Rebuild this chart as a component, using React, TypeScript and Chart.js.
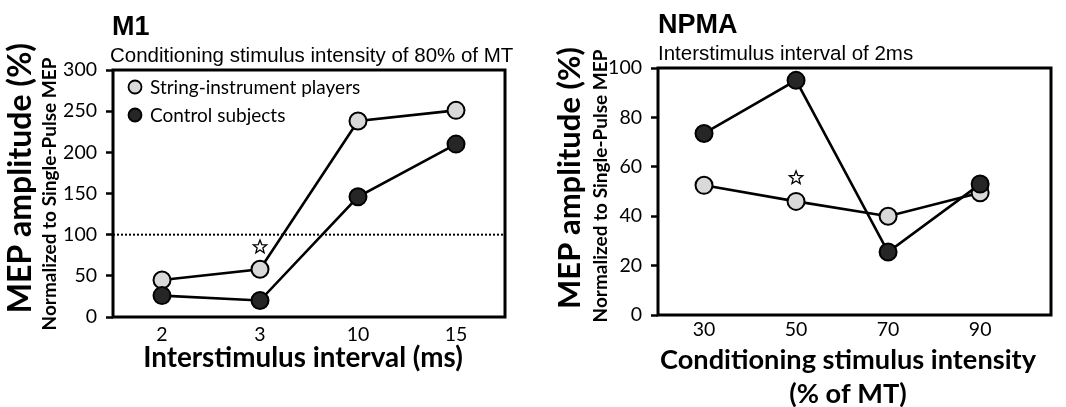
import React, { useEffect, useRef } from 'react';
import { Chart, registerables } from 'chart.js';

Chart.register(...registerables);

// ---------- Data ----------
const m1Categories = ['2', '3', '10', '15'];
const m1StringPlayers = [45, 58, 238, 251];
const m1Controls = [26, 20, 146, 210];
const m1YTicks = [0, 50, 100, 150, 200, 250, 300];
const m1ReferenceLine = 100;
const m1StarCategory = '3';
const m1StarValue = 85;

const npmaIntensities = [30, 50, 70, 90];
const npmaStringPlayers = [52.5, 46, 40, 49.5];
const npmaControls = [73.5, 95, 25.5, 53];
const npmaYTicks = [0, 20, 40, 60, 80, 100];
const npmaStarIntensity = 50;
const npmaStarValue = 55.5;

const seriesLabels = ['String-instrument players', 'Control subjects'];

// ---------- Styles ----------
const LIGHT = '#d9d9d9';
const DARK = '#262626';
const FONT = 'Lato';
const ARIAL = '"Liberation Sans", Arial, sans-serif';

Chart.defaults.font.family = FONT;
Chart.defaults.color = '#000';

type Decor = {
  title: { text: string; x: number; y: number };
  subtitle: { text: string; x: number; y: number };
  yTitle: { text: string; x: number; y: number; size: number };
  ySub: { text: string; x: number; y: number; size: number };
  xTitle: { lines: string[]; x: number; ys: number[]; size: number };
  refLine?: number;
  star: { x: number | string; y: number };
  legend?: boolean;
};

function drawStar(ctx: CanvasRenderingContext2D, cx: number, cy: number, R: number, r: number) {
  ctx.beginPath();
  for (let i = 0; i < 10; i++) {
    const rad = i % 2 === 0 ? R : r;
    const a = -Math.PI / 2 + (i * Math.PI) / 5;
    const px = cx + rad * Math.cos(a);
    const py = cy + rad * Math.sin(a);
    if (i === 0) ctx.moveTo(px, py);
    else ctx.lineTo(px, py);
  }
  ctx.closePath();
  ctx.fillStyle = '#fff';
  ctx.fill();
  ctx.lineWidth = 1.3;
  ctx.strokeStyle = '#000';
  ctx.stroke();
}

function makeDecorPlugin(d: Decor) {
  return {
    id: 'decor',
    beforeDatasetsDraw(chart: any) {
      const { ctx, chartArea, scales } = chart;
      if (d.refLine !== undefined) {
        const y = scales.y.getPixelForValue(d.refLine);
        ctx.save();
        ctx.setLineDash([2, 2]);
        ctx.lineWidth = 2;
        ctx.strokeStyle = '#000';
        ctx.beginPath();
        ctx.moveTo(chartArea.left, y);
        ctx.lineTo(chartArea.right, y);
        ctx.stroke();
        ctx.restore();
      }
    },
    afterDraw(chart: any) {
      const { ctx, chartArea, scales } = chart;
      ctx.save();
      // frame
      ctx.lineWidth = 3;
      ctx.strokeStyle = '#000';
      ctx.strokeRect(chartArea.left, chartArea.top, chartArea.right - chartArea.left, chartArea.bottom - chartArea.top);

      // titles
      ctx.fillStyle = '#000';
      ctx.textAlign = 'left';
      ctx.textBaseline = 'alphabetic';
      ctx.font = `bold 27px ${ARIAL}`;
      ctx.fillText(d.title.text, d.title.x, d.title.y);
      ctx.font = `20.5px ${ARIAL}`;
      ctx.fillText(d.subtitle.text, d.subtitle.x, d.subtitle.y);

      // y titles
      ctx.textAlign = 'center';
      ctx.textBaseline = 'middle';
      ctx.save();
      ctx.translate(d.yTitle.x, d.yTitle.y);
      ctx.rotate(-Math.PI / 2);
      ctx.font = `bold ${d.yTitle.size}px ${FONT}`;
      ctx.fillText(d.yTitle.text, 0, 0);
      ctx.restore();
      ctx.save();
      ctx.translate(d.ySub.x, d.ySub.y);
      ctx.rotate(-Math.PI / 2);
      ctx.font = `bold ${d.ySub.size}px ${FONT}`;
      ctx.fillText(d.ySub.text, 0, 0);
      ctx.restore();

      // x title
      ctx.font = `bold ${d.xTitle.size}px ${FONT}`;
      d.xTitle.lines.forEach((line, i) => ctx.fillText(line, d.xTitle.x, d.xTitle.ys[i]));

      // star
      const sx = scales.x.getPixelForValue(d.star.x as any);
      const sy = scales.y.getPixelForValue(d.star.y);
      drawStar(ctx, sx, sy, 7, 3);

      // legend (custom, inside plot area)
      if (d.legend) {
        const order = [1, 0];
        order.forEach((di, row) => {
          const ds = chart.data.datasets[di];
          const cy = chartArea.top + 17 + row * 28;
          const cx = chartArea.left + 22;
          ctx.beginPath();
          ctx.arc(cx, cy, 6.5, 0, Math.PI * 2);
          ctx.fillStyle = ds.pointBackgroundColor;
          ctx.fill();
          ctx.lineWidth = 1.8;
          ctx.strokeStyle = '#000';
          ctx.stroke();
          ctx.fillStyle = '#000';
          ctx.font = `19px ${FONT}`;
          ctx.textAlign = 'left';
          ctx.textBaseline = 'middle';
          ctx.fillText(ds.label, cx + 15, cy + 1);
        });
      }
      ctx.restore();
    },
  };
}

function seriesStyle(fill: string) {
  return {
    borderColor: '#000',
    borderWidth: 2.6,
    backgroundColor: fill,
    pointBackgroundColor: fill,
    pointBorderColor: '#000',
    pointBorderWidth: 2,
    pointRadius: 8.5,
    pointHoverRadius: 8.5,
    fill: false,
    tension: 0,
  };
}

function yAxis(ticks: number[], width: number) {
  return {
    min: ticks[0],
    max: ticks[ticks.length - 1],
    afterBuildTicks: (s: any) => {
      s.ticks = ticks.map((v) => ({ value: v }));
    },
    ticks: { color: '#000', font: { size: 19.5 }, padding: 9 },
    grid: { display: true, drawOnChartArea: false, drawTicks: true, tickLength: 7, tickWidth: 2.5, tickColor: '#000', color: '#000' },
    border: { display: false },
    afterFit: (s: any) => {
      s.width = width;
    },
  };
}

function ChartCanvas({ config }: { config: any }) {
  const ref = useRef<HTMLCanvasElement | null>(null);
  useEffect(() => {
    if (!ref.current) return;
    const chart = new Chart(ref.current, config);
    return () => chart.destroy();
  }, [config]);
  return <canvas ref={ref} width={533} height={407} style={{ display: 'block', width: 533, height: 407 }} />;
}

const m1Config = {
  type: 'line',
  data: {
    labels: m1Categories,
    datasets: [
      { label: seriesLabels[1], data: m1Controls, ...seriesStyle(DARK) },
      { label: seriesLabels[0], data: m1StringPlayers, ...seriesStyle(LIGHT) },
    ],
  },
  options: {
    animation: false,
    responsive: false,
    maintainAspectRatio: false,
    devicePixelRatio: 1,
    layout: { padding: { left: 0, top: 70, right: 28, bottom: 0 } },
    plugins: { legend: { display: false }, tooltip: { enabled: false }, title: { display: false } },
    scales: {
      x: {
        type: 'category',
        offset: true,
        grid: { display: false, drawTicks: false },
        border: { display: false },
        ticks: { color: '#000', font: { size: 19.5 }, padding: 6 },
        afterFit: (s: any) => {
          s.height = 90;
        },
      },
      y: yAxis(m1YTicks, 113),
    },
  },
  plugins: [
    makeDecorPlugin({
      title: { text: 'M1', x: 112, y: 35 },
      subtitle: { text: 'Conditioning stimulus intensity of 80% of MT', x: 110, y: 62 },
      yTitle: { text: 'MEP amplitude (%)', x: 21, y: 178, size: 32 },
      ySub: { text: 'Normalized to Single-Pulse MEP', x: 50, y: 194, size: 19 },
      xTitle: { lines: ['Interstimulus interval (ms)'], x: 303, ys: [358], size: 27.8 },
      refLine: m1ReferenceLine,
      star: { x: m1StarCategory, y: m1StarValue },
      legend: true,
    }),
  ],
};

const npmaConfig = {
  type: 'line',
  data: {
    datasets: [
      { label: seriesLabels[1], data: npmaIntensities.map((x, i) => ({ x, y: npmaControls[i] })), ...seriesStyle(DARK) },
      { label: seriesLabels[0], data: npmaIntensities.map((x, i) => ({ x, y: npmaStringPlayers[i] })), ...seriesStyle(LIGHT) },
    ],
  },
  options: {
    animation: false,
    responsive: false,
    maintainAspectRatio: false,
    devicePixelRatio: 1,
    layout: { padding: { left: 0, top: 68, right: 15, bottom: 0 } },
    plugins: { legend: { display: false }, tooltip: { enabled: false }, title: { display: false } },
    scales: {
      x: {
        type: 'linear',
        min: 20,
        max: 105.4,
        afterBuildTicks: (s: any) => {
          s.ticks = npmaIntensities.map((v) => ({ value: v }));
        },
        grid: { display: false, drawTicks: false },
        border: { display: false },
        ticks: { color: '#000', font: { size: 19.5 }, padding: 3 },
        afterFit: (s: any) => {
          s.height = 92;
        },
      },
      y: yAxis(npmaYTicks, 125),
    },
  },
  plugins: [
    makeDecorPlugin({
      title: { text: 'NPMA', x: 125, y: 33 },
      subtitle: { text: 'Interstimulus interval of 2ms', x: 125, y: 60 },
      yTitle: { text: 'MEP amplitude (%)', x: 37, y: 178, size: 31 },
      ySub: { text: 'Normalized to Single-Pulse MEP', x: 68, y: 186, size: 19 },
      xTitle: { lines: ['Conditioning stimulus intensity', '(% of MT)'], x: 315, ys: [360, 394], size: 27.2 },
      star: { x: npmaStarIntensity, y: npmaStarValue },
    }),
  ],
};

export default function App() {
  return (
    <div style={{ position: 'absolute', left: 0, top: 0, width: 1066, height: 407, display: 'flex', background: '#fff' }}>
      <ChartCanvas config={m1Config} />
      <ChartCanvas config={npmaConfig} />
    </div>
  );
}
